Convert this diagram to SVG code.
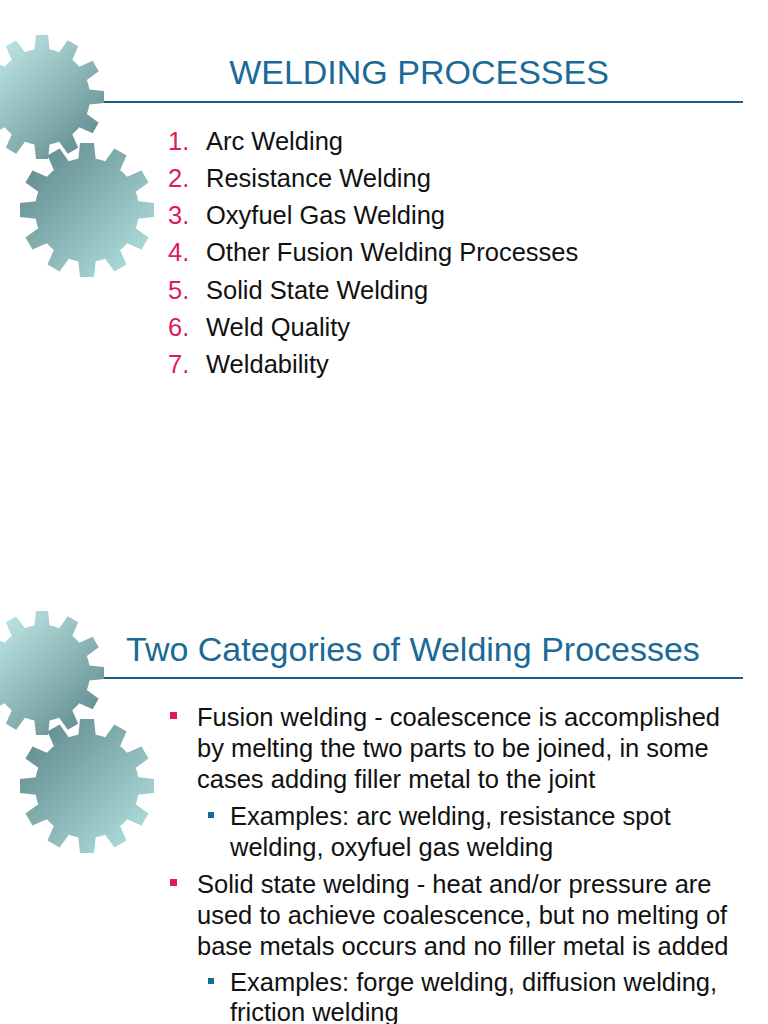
<svg xmlns="http://www.w3.org/2000/svg" xmlns:xlink="http://www.w3.org/1999/xlink" width="768" height="1024" viewBox="0 0 768 1024">
<style>
text{font-family:"Liberation Sans",Arial,sans-serif;font-size:25.5px;fill:#111}
.t{font-size:34px;fill:#1b6a96}
.n{fill:#e0195f}
.rule{stroke:#1f5f87;stroke-width:2}
</style>
<defs>
<linearGradient id="g1" gradientUnits="userSpaceOnUse" x1="-10" y1="40" x2="95" y2="150"><stop offset="0" stop-color="#c4ecec"/><stop offset="1" stop-color="#5f8a8c"/></linearGradient>
<linearGradient id="g2" gradientUnits="userSpaceOnUse" x1="25" y1="145" x2="150" y2="270"><stop offset="0" stop-color="#5c8588"/><stop offset="1" stop-color="#b4e2e2"/></linearGradient>
<path id="t1" d="M-8,-44 L-6,-62 L6,-62 L8,-44 Z"/>
<path id="t2" d="M-9,-48 L-7,-67 L7,-67 L9,-48 Z"/>
<clipPath id="c1">
<circle cx="42" cy="97" r="48"/>
<use xlink:href="#t1" transform="translate(42,97) rotate(0)"/><use xlink:href="#t1" transform="translate(42,97) rotate(30)"/><use xlink:href="#t1" transform="translate(42,97) rotate(60)"/><use xlink:href="#t1" transform="translate(42,97) rotate(90)"/><use xlink:href="#t1" transform="translate(42,97) rotate(120)"/><use xlink:href="#t1" transform="translate(42,97) rotate(150)"/><use xlink:href="#t1" transform="translate(42,97) rotate(180)"/><use xlink:href="#t1" transform="translate(42,97) rotate(210)"/><use xlink:href="#t1" transform="translate(42,97) rotate(240)"/><use xlink:href="#t1" transform="translate(42,97) rotate(270)"/><use xlink:href="#t1" transform="translate(42,97) rotate(300)"/><use xlink:href="#t1" transform="translate(42,97) rotate(330)"/>
</clipPath>
<clipPath id="c2">
<circle cx="87" cy="210" r="52"/>
<use xlink:href="#t2" transform="translate(87,210) rotate(0)"/><use xlink:href="#t2" transform="translate(87,210) rotate(30)"/><use xlink:href="#t2" transform="translate(87,210) rotate(60)"/><use xlink:href="#t2" transform="translate(87,210) rotate(90)"/><use xlink:href="#t2" transform="translate(87,210) rotate(120)"/><use xlink:href="#t2" transform="translate(87,210) rotate(150)"/><use xlink:href="#t2" transform="translate(87,210) rotate(180)"/><use xlink:href="#t2" transform="translate(87,210) rotate(210)"/><use xlink:href="#t2" transform="translate(87,210) rotate(240)"/><use xlink:href="#t2" transform="translate(87,210) rotate(270)"/><use xlink:href="#t2" transform="translate(87,210) rotate(300)"/><use xlink:href="#t2" transform="translate(87,210) rotate(330)"/>
</clipPath>
<g id="gears">
<rect x="-30" y="30" width="140" height="140" fill="url(#g1)" clip-path="url(#c1)"/>
<rect x="15" y="138" width="145" height="145" fill="url(#g2)" clip-path="url(#c2)"/>
</g>
</defs>
<rect width="768" height="1024" fill="#fff"/>
<g id="slide1">
<line class="rule" x1="100" y1="102" x2="743" y2="102"/>
<use xlink:href="#gears"/>
<text class="t" x="419" y="84" text-anchor="middle">WELDING PROCESSES</text>
<text class="n" x="168" y="150">1.</text><text x="206" y="150">Arc Welding</text>
<text class="n" x="168" y="187">2.</text><text x="206" y="187">Resistance Welding</text>
<text class="n" x="168" y="224">3.</text><text x="206" y="224">Oxyfuel Gas Welding</text>
<text class="n" x="168" y="261">4.</text><text x="206" y="261">Other Fusion Welding Processes</text>
<text class="n" x="168" y="299">5.</text><text x="206" y="299">Solid State Welding</text>
<text class="n" x="168" y="336">6.</text><text x="206" y="336">Weld Quality</text>
<text class="n" x="168" y="373">7.</text><text x="206" y="373">Weldability</text>
</g>
<g id="slide2">
<line class="rule" x1="100" y1="678" x2="743" y2="678"/>
<use xlink:href="#gears" y="576"/>
<text class="t" x="126" y="661">Two Categories of Welding Processes</text>
<rect x="170" y="712" width="7" height="7" fill="#e0195f"/>
<text x="197" y="726">Fusion welding - coalescence is accomplished</text>
<text x="197" y="757">by melting the two parts to be joined, in some</text>
<text x="197" y="788">cases adding filler metal to the joint</text>
<rect x="208" y="812" width="6" height="6" fill="#1b6a96"/>
<text x="230" y="825">Examples: arc welding, resistance spot</text>
<text x="230" y="856">welding, oxyfuel gas welding</text>
<rect x="170" y="879" width="7" height="7" fill="#e0195f"/>
<text x="197" y="893">Solid state welding - heat and/or pressure are</text>
<text x="197" y="924">used to achieve coalescence, but no melting of</text>
<text x="197" y="955">base metals occurs and no filler metal is added</text>
<rect x="208" y="978" width="6" height="6" fill="#1b6a96"/>
<text x="230" y="991">Examples: forge welding, diffusion welding,</text>
<text x="230" y="1021">friction welding</text>
</g>
</svg>
